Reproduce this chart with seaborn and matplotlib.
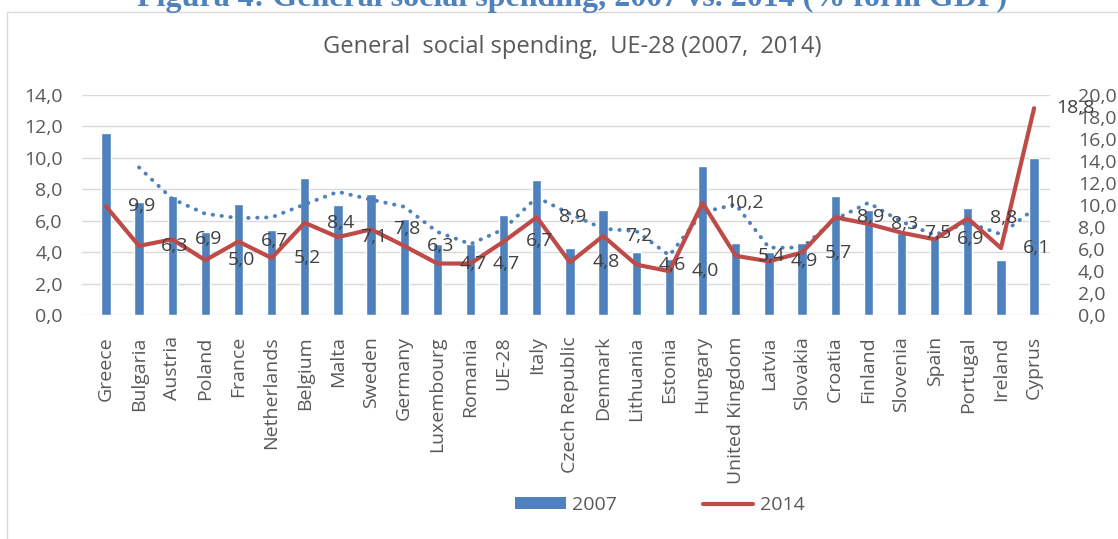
import numpy as np
import pandas as pd
import matplotlib
matplotlib.use('Agg')
import matplotlib.pyplot as plt
import seaborn as sns
from matplotlib.patches import Patch
from matplotlib.lines import Line2D
from matplotlib.ticker import FuncFormatter, MultipleLocator

# Data (% of GDP)
countries = ['Greece', 'Bulgaria', 'Austria', 'Poland', 'France', 'Netherlands', 'Belgium',
             'Malta', 'Sweden', 'Germany', 'Luxembourg', 'Romania', 'UE-28', 'Italy',
             'Czech Republic', 'Denmark', 'Lithuania', 'Estonia', 'Hungary', 'United Kingdom',
             'Latvia', 'Slovakia', 'Croatia', 'Finland', 'Slovenia', 'Spain', 'Portugal',
             'Ireland', 'Cyprus']
spend_2007 = [11.6, 7.2, 7.6, 5.3, 7.05, 5.4, 8.7, 7.0, 7.7, 6.1, 4.5, 4.55, 6.4, 8.6,
              4.3, 6.7, 4.0, 3.6, 9.5, 4.6, 4.0, 4.6, 7.6, 6.7, 5.2, 5.0, 6.8, 3.5, 10.0]
spend_2014 = [9.9, 6.3, 6.9, 5.0, 6.7, 5.2, 8.4, 7.1, 7.8, 6.3, 4.7, 4.7, 6.7, 8.9,
              4.8, 7.2, 4.6, 4.0, 10.2, 5.4, 4.9, 5.7, 8.9, 8.3, 7.5, 6.9, 8.8, 6.1, 18.8]

df = pd.DataFrame({'country': countries, '2007': spend_2007, '2014': spend_2014})
df['pos'] = np.arange(len(df))
# Excel style 2-period moving average trendline of the 2007 series
df['ma2007'] = df['2007'].rolling(2).mean()

BLUE = '#4F81BD'
RED = '#BE4B48'
GREY = '#595959'

sns.set_style('white')
plt.rcParams['font.family'] = ['Open Sans', 'DejaVu Sans']

fig = plt.figure(figsize=(11.18, 5.39), dpi=100)
ax = fig.add_axes([82 / 1118, 1 - 315.3 / 539, 968 / 1118, 220.3 / 539])

sns.barplot(data=df, x='country', y='2007', ax=ax, color=BLUE, width=0.28,
            saturation=1, zorder=2)
sns.lineplot(data=df, x='pos', y='ma2007', ax=ax, color=BLUE, linewidth=2.8,
             linestyle=(0, (0.1, 2.2)), dash_capstyle='round', zorder=3)

ax.set_xlim(-0.72, len(df) - 0.52)
ax.set_ylim(0, 14)
ax.yaxis.set_major_locator(MultipleLocator(2))
ax.grid(axis='y', color='#D9D9D9', linewidth=1, zorder=0)
ax.set_axisbelow(True)
ax.set_xlabel('')
ax.set_ylabel('')

ax2 = ax.twinx()
sns.lineplot(data=df, x='pos', y='2014', ax=ax2, color=RED, linewidth=3, zorder=4)
ax2.set_ylim(0, 20)
ax2.yaxis.set_major_locator(MultipleLocator(2))
ax2.set_ylabel('')
ax2.grid(False)

for i, v in enumerate(df['2014']):
    ax2.annotate(f'{v:.1f}'.replace('.', ','), (i, v), xytext=(16, 0),
                 textcoords='offset points', ha='left', va='center',
                 fontsize=14, color='#404040', zorder=5)

comma = FuncFormatter(lambda y, _: f'{y:.1f}'.replace('.', ','))
ax.yaxis.set_major_formatter(comma)
ax2.yaxis.set_major_formatter(comma)

ax.tick_params(axis='y', length=0, pad=14, labelsize=14, labelcolor=GREY)
ax2.tick_params(axis='y', length=0, pad=20, labelsize=14, labelcolor=GREY)
ax.tick_params(axis='x', length=0, pad=15, labelsize=14, labelcolor=GREY, rotation=90)

for a in (ax, ax2):
    for s in a.spines.values():
        s.set_visible(False)

# chart titles
fig.text(572 / 1118, 1 - 47 / 539, 'General  social spending,  UE-28 (2007,  2014)',
         ha='center', va='center', fontsize=17, color=GREY)
fig.text(572 / 1118, 1 - 6 / 539,
         'Figura 4: General social spending, 2007 vs. 2014 (% form GDP)',
         ha='center', va='baseline', fontsize=23, fontweight='bold',
         color='#4F81BD', family=['Liberation Serif', 'DejaVu Serif'])

# chart area border (top and left edges visible)
fig.add_artist(Line2D([7 / 1118, 1], [1 - 12 / 539, 1 - 12 / 539],
                      transform=fig.transFigure, color='#D9D9D9', linewidth=1))
fig.add_artist(Line2D([7 / 1118, 7 / 1118], [0, 1 - 12 / 539],
                      transform=fig.transFigure, color='#D9D9D9', linewidth=1))

handles = [Patch(facecolor=BLUE, edgecolor='none'),
           Line2D([0], [0], color=RED, linewidth=3)]
fig.legend(handles, ['2007', '2014'], loc='center', bbox_to_anchor=(660 / 1118, 1 - 505 / 539),
           ncol=2, frameon=False, fontsize=14, labelcolor=GREY, handlelength=2.6,
           handleheight=0.55, handletextpad=0.35, columnspacing=4.4)

fig.savefig('out.png', dpi=100)
